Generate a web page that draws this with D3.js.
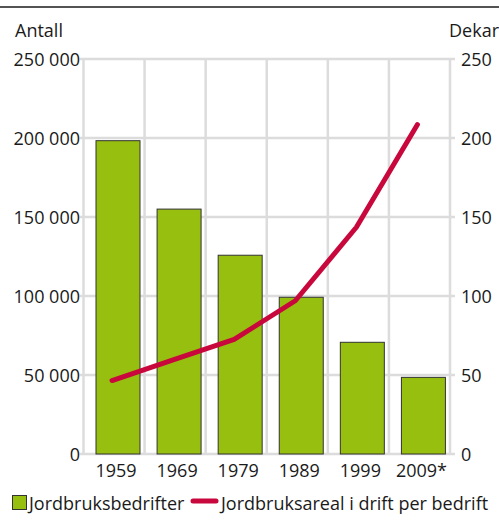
<!DOCTYPE html>
<meta charset="utf-8">
<title>Jordbruk</title>
<style>
body { margin: 0; background: #fff; font-family: "Open Sans", sans-serif; }
text { fill: #1a1a1a; }
.grid line { stroke: #dcdcdc; stroke-width: 2.5; }
</style>
<body>
<script src="https://d3js.org/d3.v7.min.js"></script>
<script>

// data
var years = ["1959", "1969", "1979", "1989", "1999", "2009*"];
var bedrifter = [198300, 155000, 125800, 99200, 70700, 48500];
var arealPerBedrift = [46.5, 59.5, 72.5, 97, 143.5, 208.5];
var leftTicks = [0, 50000, 100000, 150000, 200000, 250000];
var rightTicks = [0, 50, 100, 150, 200, 250];

var W = 499, H = 524;
var plotLeft = 83.5, plotRight = 450, plotTop = 59, plotBottom = 454;

var svg = d3.select("body").append("svg")
    .attr("width", W)
    .attr("height", H);

// rule under the (cut off) title
svg.append("line")
    .attr("x1", 0).attr("x2", W)
    .attr("y1", 7).attr("y2", 7)
    .attr("stroke", "#1a1a1a")
    .attr("stroke-width", 1.5);

var x = d3.scaleBand().domain(years).range([plotLeft, plotRight]);
var yL = d3.scaleLinear().domain([0, 250000]).range([plotBottom, plotTop]);
var yR = d3.scaleLinear().domain([0, 250]).range([plotBottom, plotTop]);

var fmt = function(d) { return d3.format(",")(d).replace(/,/g, " "); };

// grid
var grid = svg.append("g").attr("class", "grid");
grid.selectAll(".h")
    .data(leftTicks)
    .enter().append("line")
    .attr("x1", plotLeft - 4).attr("x2", plotRight + 5)
    .attr("y1", function(d) { return yL(d); })
    .attr("y2", function(d) { return yL(d); });
grid.selectAll(".v")
    .data(years.concat(["end"]))
    .enter().append("line")
    .attr("x1", function(d, i) { return plotLeft + i * x.step(); })
    .attr("x2", function(d, i) { return plotLeft + i * x.step(); })
    .attr("y1", plotTop)
    .attr("y2", plotBottom + 1);

// bars
svg.selectAll(".bar")
    .data(bedrifter)
    .enter().append("rect")
    .attr("x", function(d, i) { return x(years[i]) + 12.5; })
    .attr("width", 44)
    .attr("y", function(d) { return yL(d); })
    .attr("height", function(d) { return yL(0) - yL(d); })
    .attr("fill", "#97bf0f")
    .attr("stroke", "#333")
    .attr("stroke-width", 1);

// line
var line = d3.line()
    .x(function(d, i) { return x(years[i]) + x.bandwidth() / 2 - 2; })
    .y(function(d) { return yR(d); });

svg.append("path")
    .datum(arealPerBedrift)
    .attr("d", line)
    .attr("fill", "none")
    .attr("stroke", "#c8083c")
    .attr("stroke-width", 5)
    .attr("stroke-linecap", "round")
    .attr("stroke-linejoin", "round");

// axis labels
svg.selectAll(".ly")
    .data(leftTicks)
    .enter().append("text")
    .attr("x", 80)
    .attr("y", function(d) { return yL(d) + 6.5; })
    .attr("text-anchor", "end")
    .style("font-size", "18px")
    .text(fmt);

svg.selectAll(".ry")
    .data(rightTicks)
    .enter().append("text")
    .attr("x", 461)
    .attr("y", function(d) { return yR(d) + 6.5; })
    .style("font-size", "18px")
    .text(function(d) { return d; });

svg.selectAll(".lx")
    .data(years)
    .enter().append("text")
    .attr("x", function(d) { return x(d) + x.bandwidth() / 2 + 2; })
    .attr("y", 477)
    .attr("text-anchor", "middle")
    .style("font-size", "18px")
    .text(function(d) { return d; });

svg.append("text")
    .attr("x", 15).attr("y", 37)
    .style("font-size", "18px")
    .text("Antall");

svg.append("text")
    .attr("x", W).attr("y", 37)
    .attr("text-anchor", "end")
    .style("font-size", "18px")
    .text("Dekar");

// legend
var lg = svg.append("g");
lg.append("rect")
    .attr("x", 12.5).attr("y", 495.5)
    .attr("width", 14).attr("height", 14)
    .attr("fill", "#97bf0f")
    .attr("stroke", "#333");
lg.append("text")
    .attr("x", 29).attr("y", 510)
    .style("font-size", "18px")
    .text("Jordbruksbedrifter");
lg.append("line")
    .attr("x1", 193).attr("x2", 216)
    .attr("y1", 501).attr("y2", 501)
    .attr("stroke", "#c8083c")
    .attr("stroke-width", 5)
    .attr("stroke-linecap", "round");
lg.append("text")
    .attr("x", 221).attr("y", 510)
    .style("font-size", "18px")
    .text("Jordbruksareal i drift per bedrift");

</script>
</body>
